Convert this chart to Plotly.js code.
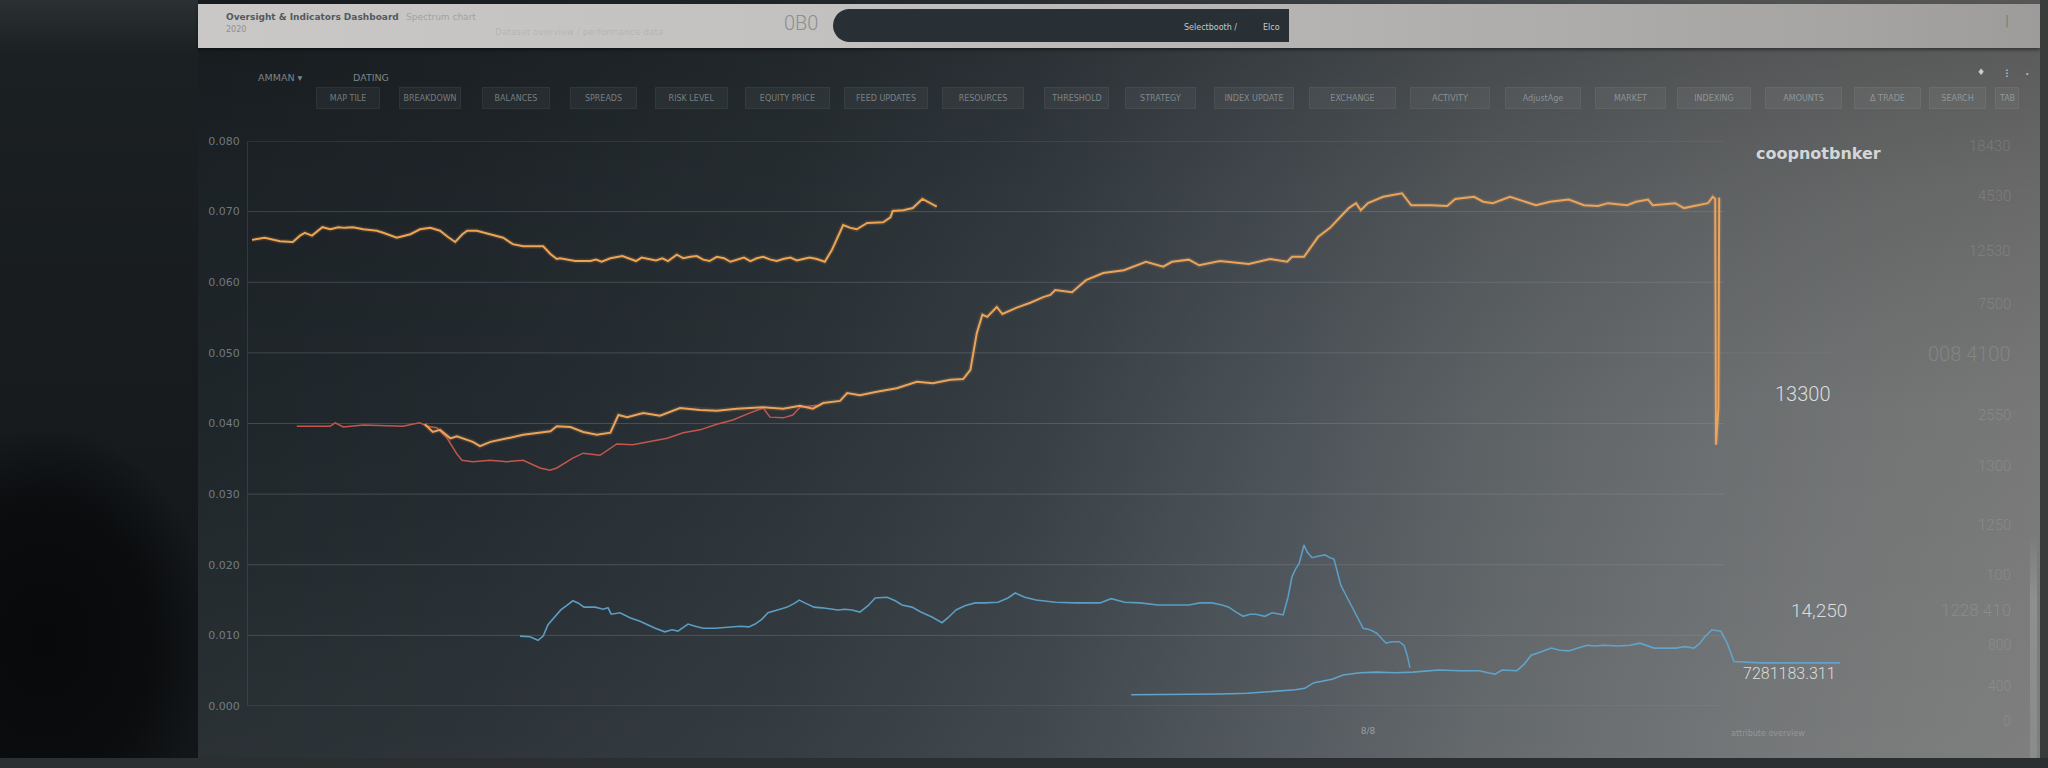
<!DOCTYPE html>
<html>
<head>
<meta charset="utf-8">
<script src="https://cdn.plot.ly/plotly-3.0.1.min.js"></script>
<style>
html,body{margin:0;padding:0;width:2048px;height:768px;overflow:hidden;background:#15191c;}
.abs{position:absolute;}
#bezelL{left:0;top:0;width:198px;height:768px;background:linear-gradient(180deg,#2b3033 0%,#1b2023 7%,#171b1e 50%,#131618 100%);}
#head{left:-120px;top:430px;width:330px;height:420px;border-radius:50%;background:radial-gradient(ellipse at center,#07090a 0%,#0a0c0e 45%,rgba(12,14,16,0) 72%);}
#screen{left:198px;top:0;width:1842px;height:758px;
background:
linear-gradient(180deg,rgba(0,0,0,0.28) 0%,rgba(0,0,0,0.12) 25%,rgba(0,0,0,0) 55%,rgba(255,255,255,0.05) 100%),
linear-gradient(90deg,#1f262a 0%,#232a2f 15%,#2b3338 32%,#373f45 45%,#4a5157 58%,#5d6265 70%,#6b6e70 82%,#737575 92%,#777877 100%);}
#topbar{left:198px;top:4px;width:1842px;height:44px;background:linear-gradient(90deg,#cac8c6 0%,#c3c1bf 35%,#b3b1af 65%,#a6a4a2 90%,#9e9c9a 100%);box-shadow:0 2px 3px rgba(0,0,0,0.4);}
#pill{left:833px;top:9px;width:456px;height:33px;background:#283036;border-radius:17px 0 0 17px;}
#bezelR{left:2040px;top:0;width:8px;height:768px;background:#3a3c3c;}
#stripR{left:2030px;top:533px;width:7px;height:225px;background:linear-gradient(180deg,rgba(150,152,152,0),#8e9090 30%,#8a8c8c);}
#bottom{left:0;top:758px;width:2048px;height:10px;background:#2c2f31;}
#chart{left:0;top:0;width:2048px;height:768px;}
</style>
</head>
<body>
<div id="bezelL" class="abs"></div>
<div id="head" class="abs"></div>
<div id="screen" class="abs"></div>
<div id="topbar" class="abs"></div>
<div id="pill" class="abs"></div>
<div id="bezelR" class="abs"></div>
<div id="stripR" class="abs"></div>
<div id="bottom" class="abs"></div>
<div id="chart" class="abs"></div>
<script>
// ---------- data ----------
const orangeAX = [0.5,2.1,4,5.6,6.5,7.1,8,9.3,10.3,11.3,12.1,13.1,14.4,16.1,16.9,18.6,20.3,21.5,22.8,24,25,25.9,26.8,27.4,28.6,30.3,31.9,33.1,34.4,36.9,37.8,38.6,39,40.9,41.9,42.8,43.5,44.2,45.3,46.8,47.8,48.5,49.2,50.3,51,51.8,52.5,53.6,54.4,55.3,56.1,56.9,57.7,58.6,59.5,60.3,61.1,62,62.8,63.6,64.4,65.3,66.1,66.9,67.8,68.6,69.4,70.2,71.1,72.1,73,74.4,75.3,76.1,77.4,79.4,80.3,80.6,81.9,83.1,84.3,84.9,86.1];
const orangeAY = [66.0,66.3,65.8,65.7,66.6,67.0,66.6,67.8,67.5,67.8,67.7,67.8,67.5,67.3,67.0,66.3,66.8,67.5,67.7,67.3,66.4,65.7,66.8,67.3,67.3,66.8,66.3,65.4,65.1,65.1,64.0,63.3,63.4,63.0,63.0,63.0,63.2,62.9,63.4,63.7,63.3,63.0,63.5,63.3,63.1,63.4,63.0,63.9,63.4,63.6,63.7,63.2,63.0,63.6,63.4,62.9,63.2,63.5,63.0,63.4,63.6,63.2,63.0,63.3,63.5,63.1,63.3,63.5,63.3,62.9,64.6,68.1,67.7,67.5,68.4,68.5,69.2,70.1,70.2,70.5,71.8,71.4,70.7];

const orangeBX = [22.1,23.1,24,25.3,26.1,26.9,28.1,29,30.3,32.4,34.4,37.8,38.6,40.3,41.9,43.6,45.3,46.3,47.4,49.4,51.5,54,56.5,58.6,61.1,64.4,66.9,69,70.6,71.9,74,74.9,76.5,78.6,81.1,83.6,85.6,87.8,89.4,90.3,91.1,91.8,92.4,93.6,94.3,96.1,97.8,99.4,100.3,100.9,103,104.75,106.9,109.5,112.25,114.4,115.5,117.6,118.9,121.5,125.1,127.75,129.9,130.5,132,133.75,135.25,136.5,137.6,138.5,139.1,140,141.9,144.25,145.4,147.9,149.9,150.9,153.25,154.4,155.6,157.75,159.75,161,162.75,165.1,167,168.75,170,172.4,173.5,175,175.6,178.4,179.5,181.4,182.5,183.1,183.4,183.5,183.8,183.9];
const orangeBY = [39.9,38.8,39.1,37.9,38.2,37.9,37.4,36.8,37.4,37.9,38.4,38.9,39.6,39.5,38.8,38.4,38.7,41.2,40.9,41.5,41.1,42.2,41.9,41.8,42.1,42.3,42.1,42.5,42.1,42.9,43.2,44.3,44.0,44.5,45.0,45.9,45.7,46.2,46.3,47.6,52.8,55.4,55.1,56.5,55.5,56.4,57.1,57.9,58.2,58.9,58.6,60.3,61.3,61.7,62.9,62.2,62.9,63.2,62.4,63.0,62.6,63.3,62.9,63.6,63.6,66.4,67.7,69.2,70.5,71.2,70.2,71.2,72.1,72.6,70.9,70.9,70.8,71.8,72.1,71.4,71.2,72.1,71.4,70.9,71.4,71.7,70.9,70.8,71.2,70.9,71.4,71.7,70.9,71.2,70.5,70.9,71.2,72.1,71.8,37.0,42.2,72.0];

const redX = [6.1,10.25,10.9,11.9,14.4,19.4,20.5,21.5,22.4,23.6,24.9,26.1,26.75,28.1,30.25,32.4,34.4,36.5,37.75,38.6,40.6,41.9,44,46.1,48.1,50.25,52.4,54.4,56.5,58.6,60.6,62.75,64.4,65.25,66.9,68.1,69,71.1];
const redY = [39.6,39.6,40.1,39.5,39.8,39.6,39.9,40.1,39.6,39.4,37.9,35.7,34.8,34.6,34.8,34.6,34.8,33.7,33.4,33.7,35.1,35.8,35.5,37.1,37.0,37.4,37.9,38.7,39.1,39.9,40.5,41.5,42.2,40.9,40.8,41.2,42.3,42.6];

const blueAX = [34,35.25,36.25,36.9,37.5,38.4,39.1,39.9,40.6,41.25,42,43.4,44.4,45,45.4,46.5,47.75,49,49.75,50.9,52.1,53,53.75,55,55.9,56.9,58.4,60.25,61.5,62.6,63.4,64.25,65,66.5,67.4,68.4,68.9,69.6,70.75,71.75,72.75,73.75,74.6,75.5,76.5,77.5,78.4,79.25,79.9,80.9,81.75,83,84.1,85.5,86.75,87.5,88.5,89.6,90.9,92.1,93.75,95,95.9,97.1,98.5,100.9,103.4,106.5,107.9,109.6,111.5,113.75,115.9,117.6,119,120.5,121.75,122.6,123.5,124.4,125.25,126,127.1,128,129.4,130,130.5,131,131.4,132,132.4,133,133.75,134.6,135.25,135.75,136.1,136.6,137.1,137.75,138.6,139.4,140.25,141.1,141.9,142.25,143,143.9,144.5,144.9,145.25];
const blueAY = [9.9,9.8,9.3,9.9,11.5,12.6,13.6,14.3,14.9,14.6,14.0,14.0,13.7,13.9,13.0,13.2,12.5,12.0,11.6,11.0,10.5,10.8,10.6,11.6,11.3,11.0,11.0,11.2,11.3,11.2,11.6,12.3,13.2,13.7,14.0,14.6,15.0,14.6,14.0,13.9,13.7,13.6,13.7,13.6,13.3,14.2,15.3,15.3,15.4,14.9,14.3,14.0,13.3,12.6,11.8,12.5,13.6,14.2,14.6,14.6,14.7,15.3,16.0,15.4,15.0,14.7,14.6,14.6,15.2,14.7,14.6,14.3,14.3,14.3,14.6,14.6,14.3,14.0,13.3,12.7,13.0,13.0,12.7,13.2,12.9,15.4,18.3,19.5,20.2,22.8,21.8,21.0,21.2,21.4,21.0,20.8,19.3,17.1,16.0,14.6,12.6,11.0,10.8,10.3,9.3,8.9,9.1,9.1,8.6,7.2,5.4];

const blueBX = [110.4,114,117.6,121.5,124.9,127.75,129.4,130.9,132.1,133.25,134.25,135.5,136.9,139,141.1,143.4,145.6,147.25,148.9,151.5,153.9,155,155.9,156.75,157.75,158.6,159.5,160.4,161.5,162.9,164,165.1,166.25,167.4,168.4,169.5,171.25,172.75,174,175,175.75,177.1,178.5,179.6,180.75,181.5,182.1,183,184.1,184.9,185.75,189,194,199];
const blueBY = [1.6,1.6,1.7,1.7,1.8,2.0,2.1,2.3,2.5,3.3,3.5,3.8,4.4,4.7,4.8,4.7,4.8,5.0,5.1,5.0,5.0,4.7,4.5,5.1,5.0,5.0,5.9,7.2,7.6,8.2,7.9,7.8,8.2,8.6,8.5,8.6,8.5,8.6,8.9,8.5,8.2,8.2,8.2,8.4,8.2,8.9,9.8,10.8,10.6,8.9,6.3,6.1,6.1,6.1];

const yTickVals = [0,10,20,30,40,50,60,70,80];
const yTickText = ["0.000","0.010","0.020","0.030","0.040","0.050","0.060","0.070","0.080"];
const xTickVals = [140];
const xTickText = ["8/8"];

const buttonLabels = ["MAP TILE","BREAKDOWN","BALANCES","SPREADS","RISK LEVEL","EQUITY PRICE","FEED UPDATES","RESOURCES","THRESHOLD","STRATEGY","INDEX UPDATE","EXCHANGE","ACTIVITY","AdjustAge","MARKET","INDEXING","AMOUNTS","Δ TRADE","SEARCH","TAB"];
const sideLabels = ["18430","4530","12530","7500","008 4100","2550","1300","1250","100","1228 410","800","400","0"];
const calloutTitle = "coopnotbnker";
const calloutValues = ["13300","14,250","7281183.311"];

// ---------- layout helpers (pixel -> paper) ----------
const L=248, R=1848, T=141, B=706;
function px(x){return (x-L)/(R-L);}
function py(y){return (B-y)/(B-T);}
const FONT = "DejaVu Sans, Liberation Sans, sans-serif";
function ann(text,x,y,size,color,extra){
  return Object.assign({text:text,x:px(x),y:py(y),xref:'paper',yref:'paper',showarrow:false,
    xanchor:'center',yanchor:'middle',font:{family:FONT,size:size,color:color}},extra||{});
}

const annotations = [];
// top bar
annotations.push(ann("<b>Oversight &amp; Indicators Dashboard</b>",224,17,9,"#55595d",{xanchor:'left'}));
annotations.push(ann("Spectrum chart",404,17,9,"#a2a2a1",{xanchor:'left'}));
annotations.push(ann("2020",224,30,8,"#8d8f91",{xanchor:'left'}));
annotations.push(ann("Dataset overview / performance data",579,32,9,"rgba(150,150,150,0.35)"));
annotations.push(ann("0B0",801,23,20,"#8c8e90",{font:{family:"Roboto, sans-serif",size:20,color:"#8c8e90",weight:300}}));
annotations.push(ann("Selectbooth /",1210,27,8,"#c3c8cb"));
annotations.push(ann("Elco",1271,27,8,"#c3c8cb"));
annotations.push(ann("|",2007,21,12,"#7a7a7a"));
// second row
annotations.push(ann("AMMAN ▾",280,77,9.5,"#7c8489"));
annotations.push(ann("DATING",371,77,9.5,"#7c8489"));
annotations.push(ann("♦",1981,72,9,"#c9cdd0"));
annotations.push(ann("⁝",2007,73,12,"#c9cdd0"));
annotations.push(ann("·",2027,74,14,"#c9cdd0"));
// buttons
const btnBox = [[317,379],[400,460],[483,549],[571,636],[656,727],[746,829],[845,927],[943,1023],[1045,1108],[1126,1195],[1215,1293],[1310,1395],[1411,1489],[1506,1580],[1596,1665],[1678,1750],[1766,1841],[1855,1920],[1930,1985],[1996,2018]];
buttonLabels.forEach((t,i)=>{
  const b=btnBox[i];
  annotations.push(ann(t,(b[0]+b[1])/2,98,8,"rgba(185,195,200,0.55)",{
    width:(b[1]-b[0])-6,height:14,bgcolor:"rgba(255,255,255,0.045)",bordercolor:"rgba(255,255,255,0.07)",borderwidth:1,borderpad:3}));
});
// callouts
annotations.push(ann("<b>"+calloutTitle+"</b>",1818,153,16,"#d3d6d8"));
annotations.push(ann(calloutValues[0],1802,394,20,"#dadcdd",{font:{family:"Roboto, sans-serif",size:20,color:"#dadcdd",weight:300}}));
annotations.push(ann(calloutValues[1],1819,610,19,"#dadcdd",{font:{family:"Roboto, sans-serif",size:19,color:"#dadcdd",weight:300}}));
annotations.push(ann(calloutValues[2],1789,673,16,"#dadcdd",{font:{family:"Roboto, sans-serif",size:16,color:"#dadcdd",weight:300}}));
// faded right column
const sideY=[146,196,251,304,354,415,466,525,575,610,645,686,721];
const sideSize=[15,15,15,15,20,15,15,15,15,17,14,14,14];
sideLabels.forEach((t,i)=>{
  annotations.push(ann(t,2013,sideY[i],sideSize[i],"rgba(200,204,206,0.22)",{xanchor:'right',font:{family:"Roboto, sans-serif",size:sideSize[i],color:"rgba(200,204,206,0.22)",weight:300}}));
});
annotations.push(ann("attribute overview",1768,733,8,"rgba(170,174,176,0.6)"));

// gridlines stop near the right edge of the data area, as on the screen
const gridEnd = 184.5;
const shapes = yTickVals.map(v=>({type:'line',xref:'x',yref:'y',x0:0,x1:gridEnd,y0:v,y1:v,
  line:{color:'rgba(140,155,165,0.30)',width:1},layer:'below'}));
shapes.push({type:'line',xref:'x',yref:'y',x0:gridEnd,x1:198,y0:50,y1:50,line:{color:'rgba(170,180,185,0.12)',width:1},layer:'below'});

const glow = 'rgba(240,165,85,0.14)';
const traces = [
  {x:orangeAX,y:orangeAY,mode:'lines',line:{color:glow,width:5},hoverinfo:'skip'},
  {x:orangeBX,y:orangeBY,mode:'lines',line:{color:glow,width:5},hoverinfo:'skip'},
  {x:redX,y:redY,mode:'lines',line:{color:'#c4564e',width:1.5},name:'red'},
  {x:blueAX,y:blueAY,mode:'lines',line:{color:'#5b9dc3',width:1.6},name:'blueA'},
  {x:blueBX,y:blueBY,mode:'lines',line:{color:'#62a3cb',width:1.6},name:'blueB'},
  {x:orangeAX,y:orangeAY,mode:'lines',line:{color:'#eda553',width:2},name:'orangeA'},
  {x:orangeBX,y:orangeBY,mode:'lines',line:{color:'#eaa45c',width:2},name:'orangeB'}
];

const layout = {
  width:2048,height:768,
  margin:{l:L,r:2048-R,t:T,b:768-B,pad:0},
  paper_bgcolor:'rgba(0,0,0,0)',plot_bgcolor:'rgba(0,0,0,0)',
  showlegend:false,
  xaxis:{range:[0,200],showgrid:false,zeroline:false,showline:false,ticks:'',
    tickvals:xTickVals,ticktext:xTickText,ticklabelstandoff:18,
    tickfont:{family:FONT,size:9,color:'rgba(175,180,182,0.75)'}},
  yaxis:{range:[0,80],tickvals:yTickVals,ticktext:yTickText,showgrid:false,
    zeroline:false,
    showline:true,linecolor:'rgba(120,135,145,0.22)',linewidth:1,ticks:'',ticklabelstandoff:5,
    tickfont:{family:FONT,size:11,color:'rgba(150,160,166,0.7)'}},
  shapes:shapes,
  annotations:annotations
};
Plotly.newPlot('chart',traces,layout,{staticPlot:true,displayModeBar:false});
</script>
</body>
</html>
